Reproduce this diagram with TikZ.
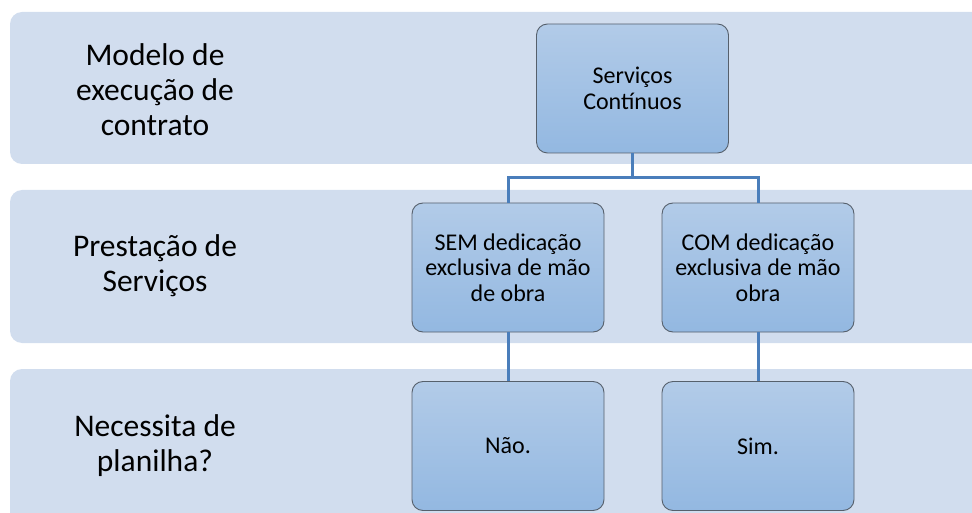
\documentclass[tikz,border=0pt]{standalone}
\usepackage{fontspec}
\setmainfont{Carlito}
\definecolor{bandfill}{HTML}{D1DDEE}
\definecolor{boxtop}{HTML}{B2CBE8}
\definecolor{boxbot}{HTML}{93B8E1}
\definecolor{boxline}{HTML}{56606C}
\definecolor{conn}{HTML}{4A7EBB}
\tikzset{
  band/.style={fill=bandfill, draw=none, rounded corners=12pt},
  lbl/.style={align=center, font=\fontsize{31.5}{35}\selectfont, text=black},
  box/.style={draw=boxline, line width=0.9pt, rounded corners=11pt, top color=boxtop, bottom color=boxbot,
              minimum width=192pt, minimum height=129pt, align=center,
              font=\fontsize{24}{25.5}\selectfont, inner sep=0pt},
  conn/.style={draw=conn, line width=3pt}
}
\begin{document}
\begin{tikzpicture}[x=1pt,y=-1pt]
\useasboundingbox (0,0) rectangle (972,513);
\begin{scope}
\clip (0,0) rectangle (972,513);
\path[band] (10,12) rectangle (1000,164);
\path[band] (10,190) rectangle (1000,343);
\path[band] (10,369) rectangle (1000,540);
\end{scope}
\node[lbl] (l1) at (155,90) {Modelo de\\execução de\\contrato};
\node[lbl] (l2) at (155,266) {Prestação de\\Serviços};
\node[lbl] (l3) at (155,446) {Necessita de\\planilha?};
\node[box] (sc) at (632.5,88.5) {Serviços\\Contínuos};
\node[box] (sem) at (508,267.5) {SEM dedicação\\exclusiva de mão\\de obra};
\node[box] (com) at (758,267.5) {COM dedicação\\exclusiva de mão\\obra};
\node[box] (nao) at (508,446) {Não.};
\node[box] (sim) at (758,446) {Sim.};
\coordinate (j) at (632.5,178);
\draw[conn] (sc.south) -- (j);
\draw[conn] (sem.north) |- (j) -| (com.north);
\draw[conn] (sem.south) -- (nao.north);
\draw[conn] (com.south) -- (sim.north);
\end{tikzpicture}
\end{document}
